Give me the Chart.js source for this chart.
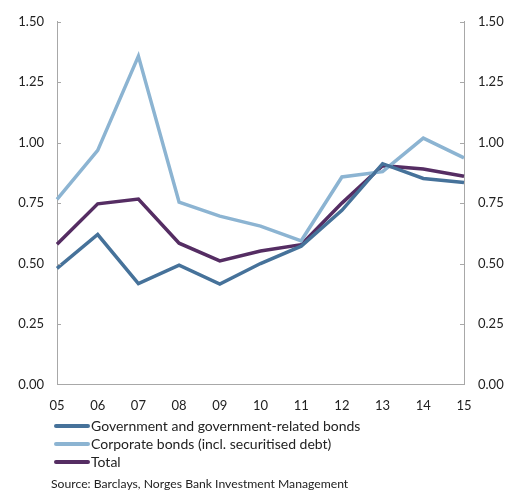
<!DOCTYPE html>
<html>
<head>
<meta charset="utf-8">
<script src="https://cdn.jsdelivr.net/npm/chart.js@4/dist/chart.umd.min.js"></script>
<style>
  html, body { margin: 0; padding: 0; background: #fff; }
  body { width: 511px; height: 491px; position: relative; overflow: hidden; font-family: Lato, "Open Sans", sans-serif; color: #222; }
  #wrap { position: absolute; left: 0; top: 0; width: 511px; height: 428px; }
  #legend { position: absolute; left: 54px; top: 417px; font-size: 14px; line-height: 18px; }
  .item { display: flex; align-items: center; height: 18px; }
  .sw { width: 36px; height: 4px; border-radius: 2px; margin-right: 1px; }
  #source { position: absolute; left: 51px; top: 476px; font-size: 12.2px; }
</style>
</head>
<body>
<div id="wrap"><canvas id="c" width="511" height="428"></canvas></div>
<div id="legend"></div>
<div id="source">Source: Barclays, Norges Bank Investment Management</div>
<script>
const categories = ["05","06","07","08","09","10","11","12","13","14","15"];
const seriesNames = ["Government and government-related bonds", "Corporate bonds (incl. securitised debt)", "Total"];
const government = [0.48, 0.62, 0.417, 0.493, 0.415, 0.50, 0.572, 0.72, 0.913, 0.852, 0.835];
const corporate  = [0.765, 0.968, 1.358, 0.754, 0.696, 0.655, 0.594, 0.858, 0.88, 1.019, 0.937];
const total      = [0.58, 0.747, 0.767, 0.584, 0.511, 0.552, 0.578, 0.75, 0.905, 0.891, 0.861];
const yTicks = [0, 0.25, 0.5, 0.75, 1.0, 1.25, 1.5];
const colors = ["#46729a", "#8cb4d2", "#552d63"];

const axisColor = "#a8a8a8";
const inwardTicks = {
  id: "inwardTicks",
  afterDraw(chart) {
    const ctx = chart.ctx, y = chart.scales.y, ca = chart.chartArea;
    ctx.save();
    ctx.strokeStyle = axisColor; ctx.lineWidth = 1;
    yTicks.forEach(v => {
      const p = Math.round(y.getPixelForValue(v)) + 0.5;
      ctx.beginPath(); ctx.moveTo(ca.left, p); ctx.lineTo(ca.left + 4, p); ctx.stroke();
      ctx.beginPath(); ctx.moveTo(ca.right, p); ctx.lineTo(ca.right - 4, p); ctx.stroke();
    });
    ctx.restore();
  }
};

const datasets = [government, corporate, total].map((d, i) => ({
  label: seriesNames[i], data: d, borderColor: colors[i], backgroundColor: colors[i],
  borderWidth: 3.5, pointRadius: 0, tension: 0, fill: false
}));

const tickFont = { family: "Lato, 'Open Sans', sans-serif", size: 13 };
new Chart(document.getElementById("c"), {
  type: "line",
  data: { labels: categories, datasets },
  options: {
    responsive: false, animation: false,
    layout: { padding: { top: 13, left: 0, right: 0, bottom: 0 } },
    plugins: { legend: { display: false }, tooltip: { enabled: false } },
    scales: {
      x: {
        grid: { display: false, drawTicks: false },
        border: { display: true, color: axisColor, width: 1 },
        ticks: { font: tickFont, color: "#222", padding: 14, maxRotation: 0, autoSkip: false }
      },
      y: {
        position: "left", min: 0, max: 1.5,
        afterBuildTicks: s => { s.ticks = yTicks.map(v => ({ value: v })); },
        afterFit: s => { s.width = 57; },
        grid: { display: false, drawTicks: false },
        border: { display: true, color: axisColor, width: 1 },
        ticks: { font: tickFont, color: "#222", padding: 13, callback: v => v.toFixed(2) }
      },
      y2: {
        position: "right", min: 0, max: 1.5,
        afterBuildTicks: s => { s.ticks = yTicks.map(v => ({ value: v })); },
        afterFit: s => { s.width = 47; },
        grid: { display: false, drawTicks: false },
        border: { display: true, color: axisColor, width: 1 },
        ticks: { font: tickFont, color: "#222", padding: 14, callback: v => v.toFixed(2) }
      }
    }
  },
  plugins: [inwardTicks]
});

const lg = document.getElementById("legend");
seriesNames.forEach((n, i) => {
  const it = document.createElement("div"); it.className = "item";
  const sw = document.createElement("span"); sw.className = "sw"; sw.style.background = colors[i];
  const tx = document.createElement("span"); tx.textContent = n;
  it.appendChild(sw); it.appendChild(tx); lg.appendChild(it);
});
</script>
</body>
</html>
